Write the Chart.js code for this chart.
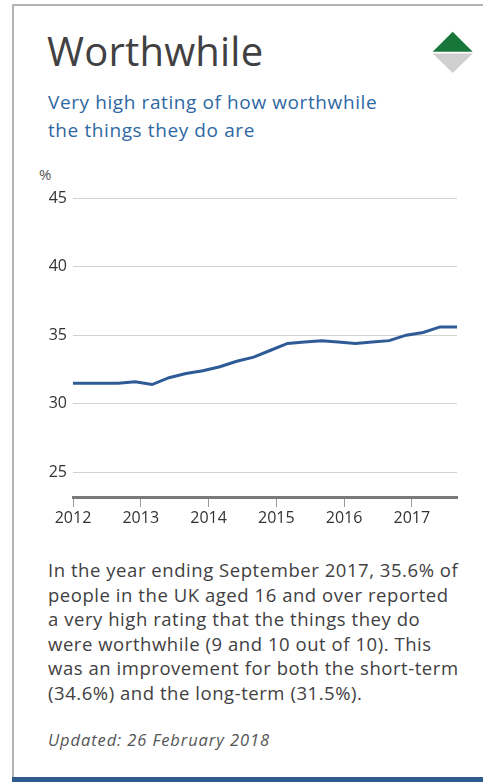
<!DOCTYPE html>
<html>
<head>
<meta charset="utf-8">
<script src="https://cdn.jsdelivr.net/npm/chart.js@4"></script>
<style>
  html, body { margin: 0; padding: 0; background: #fff; }
  body { width: 483px; height: 782px; position: relative; overflow: hidden; font-family: "Open Sans", sans-serif; }
  .card { position: absolute; left: 12px; top: 4px; width: 520px; height: 773px; border-left: 2px solid #b4b4b4; border-top: 2px solid #b4b4b4; box-sizing: border-box; }
  .footer-bar { position: absolute; left: 12px; top: 777px; width: 471px; height: 5px; background: #2f5a8d; }
  .title { position: absolute; left: 47px; top: 31px; font-size: 40px; line-height: 40px; color: #414042; white-space: nowrap; letter-spacing: 0.2px; }
  .subtitle { position: absolute; left: 48px; top: 89px; font-size: 19px; line-height: 27.6px; letter-spacing: 0.6px; color: #2f67a3; white-space: nowrap; }
  .unit { position: absolute; left: 39px; top: 164px; font-size: 15px; line-height: 20px; color: #555; }
  .chart-box { position: absolute; left: 0; top: 180px; width: 483px; height: 360px; }
  .summary { position: absolute; left: 48px; top: 558px; font-size: 18.5px; line-height: 24.5px; letter-spacing: 0.55px; color: #414042; white-space: nowrap; }
  .updated { position: absolute; left: 48px; top: 729px; font-size: 16.5px; line-height: 22px; letter-spacing: 0.9px; font-style: italic; color: #555; white-space: nowrap; }
  .trend { position: absolute; left: 0; top: 0; }
</style>
</head>
<body>
<div class="card"></div>
<div class="footer-bar"></div>
<svg class="trend" width="483" height="90">
  <polygon points="432.7,51.7 452.7,31.7 472.7,51.7" fill="#17773b"/>
  <polygon points="432.7,53.5 472.7,53.5 452.7,73" fill="#cfcfcf"/>
</svg>
<div class="title">Worthwhile</div>
<div class="subtitle">Very high rating of how worthwhile<br>the things they do are</div>
<div class="unit">%</div>
<div class="chart-box"><canvas id="chart"></canvas></div>
<div class="summary">In the year ending September 2017, 35.6% of<br>people in the UK aged 16 and over reported<br>a very high rating that the things they do<br>were worthwhile (9 and 10 out of 10). This<br>was an improvement for both the short-term<br>(34.6%) and the long-term (31.5%).</div>
<div class="updated">Updated: 26 February 2018</div>

<script>
// Quarterly periods (year ending ...) and the share with a very high rating, %
const periods = [
  'Dec 2011', 'Mar 2012', 'Jun 2012', 'Sep 2012', 'Dec 2012',
  'Mar 2013', 'Jun 2013', 'Sep 2013', 'Dec 2013',
  'Mar 2014', 'Jun 2014', 'Sep 2014', 'Dec 2014',
  'Mar 2015', 'Jun 2015', 'Sep 2015', 'Dec 2015',
  'Mar 2016', 'Jun 2016', 'Sep 2016', 'Dec 2016',
  'Mar 2017', 'Jun 2017', 'Sep 2017'
];
const worthwhileValues = [
  31.5, 31.5, 31.5, 31.5, 31.6,
  31.4, 31.9, 32.2, 32.4,
  32.7, 33.1, 33.4, 33.9,
  34.4, 34.5, 34.6, 34.5,
  34.4, 34.5, 34.6, 35.0,
  35.2, 35.6, 35.6
];
const yearTicks = [2012, 2013, 2014, 2015, 2016, 2017];
const percentTicks = [25, 30, 35, 40, 45];

const monthNames = ['Jan','Feb','Mar','Apr','May','Jun','Jul','Aug','Sep','Oct','Nov','Dec'];
function periodToYear(label) {
  const [mon, yr] = label.split(' ');
  return Number(yr) + monthNames.indexOf(mon) / 12;
}

const points = periods.map((p, i) => ({ x: periodToYear(p), y: worthwhileValues[i] }));

new Chart(document.getElementById('chart'), {
  type: 'line',
  data: {
    datasets: [{
      label: 'Worthwhile',
      data: points,
      borderColor: '#2e5b96',
      borderWidth: 3,
      pointRadius: 0,
      tension: 0,
      fill: false,
      clip: 0
    }]
  },
  options: {
    responsive: true,
    maintainAspectRatio: false,
    animation: false,
    events: [],
    layout: { padding: { top: 18, right: 26, left: 0, bottom: 0 } },
    plugins: { legend: { display: false }, tooltip: { enabled: false }, title: { display: false } },
    scales: {
      x: {
        type: 'linear',
        min: 2012,
        max: periodToYear(periods[periods.length - 1]),
        afterBuildTicks: s => { s.ticks = yearTicks.map(v => ({ value: v })); },
        afterFit: s => { s.height = 43; },
        grid: { drawOnChartArea: false, drawTicks: true, tickLength: 10, color: '#9a9a9a', lineWidth: 1 },
        border: { display: true, color: '#7a7a7a', width: 3 },
        ticks: {
          padding: 2,
          color: '#333',
          font: { family: 'Open Sans', size: 16 },
          maxRotation: 0,
          callback: v => String(v)
        }
      },
      y: {
        min: 23.2,
        max: 45,
        afterBuildTicks: s => { s.ticks = percentTicks.map(v => ({ value: v })); },
        afterFit: s => { s.width = 73; },
        grid: { drawTicks: false, color: '#d3d3d3', lineWidth: 1 },
        border: { display: false },
        ticks: {
          padding: 6,
          color: '#333',
          font: { family: 'Open Sans', size: 16 },
          callback: v => String(v)
        }
      }
    }
  }
});
</script>
</body>
</html>
